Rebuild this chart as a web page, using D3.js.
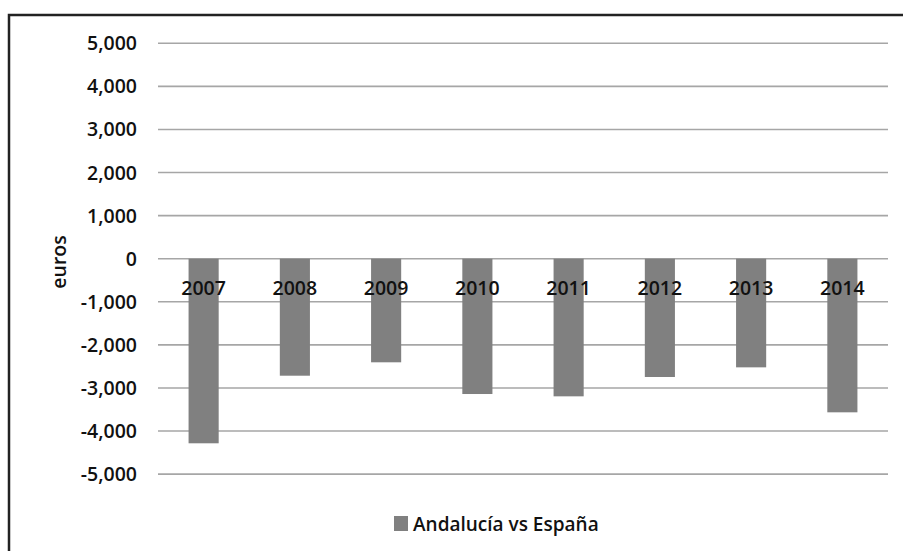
<!DOCTYPE html>
<html>
<head>
<meta charset="utf-8">
<script src="https://cdn.jsdelivr.net/npm/d3@7"></script>
<style>
  html, body { margin: 0; padding: 0; background: #fff; }
  svg { display: block; }
  text { font-family: "Open Sans", "Noto Sans", sans-serif; fill: #111; }
</style>
</head>
<body>
<svg id="chart" width="903" height="551"></svg>
<script>
// Per-capita difference, Andalucía vs España (euros)
const years = ["2007", "2008", "2009", "2010", "2011", "2012", "2013", "2014"];
const values = [-4285, -2716, -2405, -3141, -3195, -2746, -2522, -3566];
const tickValues = [5000, 4000, 3000, 2000, 1000, 0, -1000, -2000, -3000, -4000, -5000];
const seriesName = "Andalucía vs España";
const axisTitle = "euros";

const svg = d3.select("#chart");
const W = 903, H = 551;

// outer frame (only top and left edges fall inside the view)
svg.append("path")
  .attr("d", `M9,${H + 5} V15 H${W + 5}`)
  .attr("fill", "none")
  .attr("stroke", "#222")
  .attr("stroke-width", 2.5);

const plot = { left: 158, right: 888 };

const y = d3.scaleLinear().domain([-5000, 5000]).range([474.1, 43.3]);
const x = d3.scaleBand().domain(years).range([plot.left, plot.right]).paddingInner(0.67).paddingOuter(0.335);

// gridlines
svg.append("g")
  .selectAll("line")
  .data(tickValues)
  .join("line")
  .attr("x1", plot.left)
  .attr("x2", plot.right)
  .attr("y1", d => y(d))
  .attr("y2", d => y(d))
  .attr("stroke", "#a6a6a6")
  .attr("stroke-width", 1.6);

// y tick labels, thousands separator and plain hyphen for negatives
const locale = d3.formatLocale({ decimal: ".", thousands: ",", grouping: [3], currency: ["", ""], minus: "-" });
const fmt = locale.format(",");
svg.append("g")
  .selectAll("text")
  .data(tickValues)
  .join("text")
  .attr("x", 137)
  .attr("y", d => y(d) + 7)
  .attr("text-anchor", "end")
  .attr("font-size", 19.5)
  .attr("font-weight", 600)
  .text(d => fmt(d));

// bars
svg.append("g")
  .selectAll("rect")
  .data(values)
  .join("rect")
  .attr("x", (d, i) => x(years[i]))
  .attr("width", x.bandwidth())
  .attr("y", d => y(Math.max(0, d)))
  .attr("height", d => Math.abs(y(d) - y(0)))
  .attr("fill", "#808080");

// category labels sit just below the zero line, over the bars
svg.append("g")
  .selectAll("text")
  .data(years)
  .join("text")
  .attr("x", d => x(d) + x.bandwidth() / 2)
  .attr("y", y(0) + 36.5)
  .attr("text-anchor", "middle")
  .attr("font-size", 19.5)
  .attr("font-weight", 600)
  .text(d => d);

// axis title
svg.append("text")
  .attr("transform", `translate(66,262) rotate(-90)`)
  .attr("text-anchor", "middle")
  .attr("font-size", 19.5)
  .attr("font-weight", 600)
  .text(axisTitle);

// legend
const legend = svg.append("g").attr("transform", "translate(394,516)");
legend.append("rect")
  .attr("width", 14)
  .attr("height", 15)
  .attr("fill", "#808080");
legend.append("text")
  .attr("x", 19)
  .attr("y", 14.5)
  .attr("font-size", 19)
  .attr("font-weight", 600)
  .text(seriesName);
</script>
</body>
</html>
